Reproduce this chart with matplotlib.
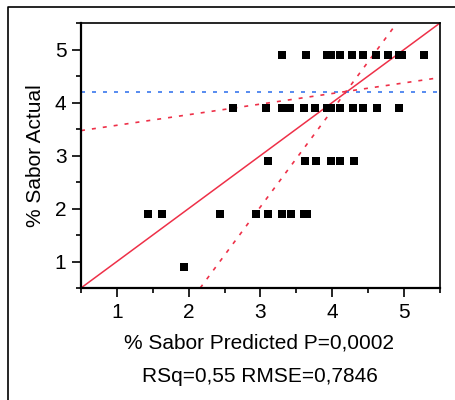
import numpy as np
import matplotlib
matplotlib.use("Agg")
import matplotlib.pyplot as plt
from matplotlib.lines import Line2D
from matplotlib.ticker import MultipleLocator

plt.rcParams['font.family'] = ['Liberation Sans', 'DejaVu Sans']

# predicted values for each level of actual
pred_49 = [3.30, 3.63, 3.93, 3.98, 4.11, 4.28, 4.43, 4.61, 4.78, 4.93, 4.97, 5.28]
pred_39 = [2.62, 3.08, 3.30, 3.41, 3.61, 3.76, 3.93, 3.98, 4.11, 4.29, 4.43, 4.62, 4.93]
pred_29 = [3.10, 3.62, 3.77, 3.98, 4.11, 4.30]
pred_19 = [1.43, 1.63, 2.44, 2.94, 3.10, 3.30, 3.42, 3.61, 3.65]
pred_09 = [1.93]
actual_levels = [4.9, 3.9, 2.9, 1.9, 0.9]

mean_actual = 4.2
# confidence curves (end points)
conf_flat_x = [0.5, 5.5]
conf_flat_y = [3.47, 4.47]
conf_steep_x = [2.16, 4.90]
conf_steep_y = [0.5, 5.5]

red = '#ee3048'
blue = '#3a78ee'
fs = 15

fig = plt.figure(figsize=(4.56, 4.0), dpi=100)
ax = fig.add_axes([81/456, 1-288/400, (440-81)/456, (288-23)/400])

ax.set_xlim(0.5, 5.5)
ax.set_ylim(0.5, 5.5)

ax.plot([0.5, 5.5], [0.5, 5.5], color=red, lw=1.1, zorder=2)
ax.axhline(mean_actual, color=blue, lw=1.2, dashes=(2.4, 4.2), zorder=2)
ax.plot(conf_flat_x, conf_flat_y, color=red, lw=1.2, dashes=(2.4, 4.2), zorder=2)
ax.plot(conf_steep_x, conf_steep_y, color=red, lw=1.2, dashes=(2.4, 4.2), zorder=2)

for xs, lev in zip([pred_49, pred_39, pred_29, pred_19, pred_09], actual_levels):
    ax.plot(xs, [lev] * len(xs), 's', color='black', ms=5.8, mew=0, zorder=3)

ax.xaxis.set_major_locator(MultipleLocator(1))
ax.xaxis.set_minor_locator(MultipleLocator(0.5))
ax.yaxis.set_major_locator(MultipleLocator(1))
ax.yaxis.set_minor_locator(MultipleLocator(0.5))
ax.tick_params(which='major', direction='out', length=6.5, width=1.2, labelsize=fs, pad=4)
ax.tick_params(which='minor', direction='out', length=3.3, width=1.2)

for s in ['left', 'bottom']:
    ax.spines[s].set_linewidth(1.6)
for s in ['top', 'right']:
    ax.spines[s].set_linewidth(1.2)

ax.set_ylabel('% Sabor Actual', fontsize=fs, labelpad=7)
fig.text(259/456, 1-343/400, '% Sabor Predicted P=0,0002', fontsize=fs,
         ha='center', va='center')
fig.text(260/456, 1-376/400, 'RSq=0,55 RMSE=0,7846', fontsize=fs,
         ha='center', va='center')

# outer frame (only top and left edges visible)
fig.add_artist(Line2D([8/456, 8/456, 1.0], [0.0, 1-7/400, 1-7/400],
                      transform=fig.transFigure, color='black', lw=1.2))

fig.savefig('out.png', dpi=100)
